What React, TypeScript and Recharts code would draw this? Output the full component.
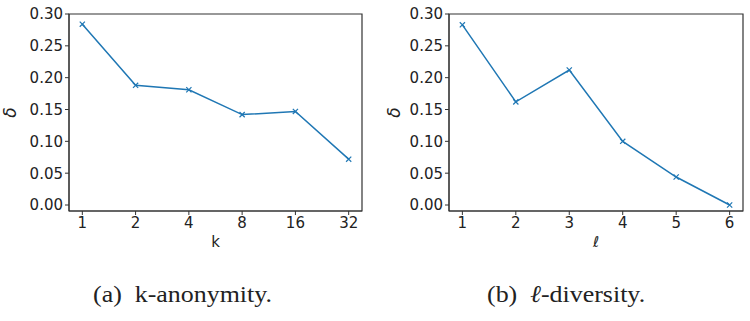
import { LineChart, Line, XAxis, YAxis, ReferenceArea, Label } from "recharts";

// k-anonymity panel
const kLabels = ["1", "2", "4", "8", "16", "32"];
const kDelta = [0.284, 0.188, 0.181, 0.142, 0.147, 0.072];

// l-diversity panel
const lLabels = ["1", "2", "3", "4", "5", "6"];
const lDelta = [0.283, 0.162, 0.212, 0.1, 0.044, 0.0];

const yTicks = [0, 0.05, 0.1, 0.15, 0.2, 0.25, 0.3];
const xIdx = [0, 1, 2, 3, 4, 5];

const BLUE = "#1f77b4";
const AXIS = "#333";
const Y_MIN = -0.0094;
const Y_MAX = 0.3;

const XDot = (props: any) => {
  const { cx, cy } = props;
  if (cx == null || cy == null) return null;
  const r = 2.6;
  return (
    <path
      d={`M${cx - r},${cy - r}L${cx + r},${cy + r}M${cx - r},${cy + r}L${cx + r},${cy - r}`}
      stroke={BLUE}
      strokeWidth={1.2}
      fill="none"
    />
  );
};

const DeltaLabel = ({ viewBox, dist }: any) => {
  const x = viewBox.x + viewBox.width - dist;
  const y = viewBox.y + viewBox.height / 2;
  return (
    <text
      x={x}
      y={y}
      transform={`rotate(-90 ${x} ${y})`}
      textAnchor="middle"
      dominantBaseline="central"
      fontFamily="DejaVu Sans"
      fontStyle="italic"
      fontSize={17}
      fill="#222"
    >
      δ
    </text>
  );
};

function Panel({ labels, values, xName, yWidth, right, dist, italicX }: any) {
  const data = values.map((v: number, i: number) => ({ i, v }));
  const tick = { fontFamily: "DejaVu Sans", fontSize: 15, fill: "#222" };
  return (
    <LineChart width={375} height={260} data={data} margin={{ top: 14, right, left: 0, bottom: 11 }}>
      <XAxis
        dataKey="i"
        type="number"
        domain={[-0.25, 5.25]}
        ticks={xIdx}
        interval={0}
        tickFormatter={(v: number) => labels[v]}
        tick={tick}
        tickSize={4}
        tickMargin={2}
        stroke={AXIS}
        height={38}
        allowDataOverflow
      >
        <Label
          value={xName}
          position="insideBottom"
          offset={2}
          style={{ fontFamily: "DejaVu Sans", fontSize: 15, fill: "#222", fontStyle: italicX ? "italic" : "normal" }}
        />
      </XAxis>
      <YAxis
        type="number"
        domain={[Y_MIN, Y_MAX]}
        ticks={yTicks}
        interval={0}
        tickFormatter={(v: number) => v.toFixed(2)}
        tick={tick}
        tickSize={4}
        tickMargin={2}
        stroke={AXIS}
        width={yWidth}
        allowDataOverflow
        label={<DeltaLabel dist={dist} />}
      />
      <ReferenceArea
        x1={-0.25}
        x2={5.25}
        y1={Y_MIN}
        y2={Y_MAX}
        fill="none"
        fillOpacity={0}
        stroke={AXIS}
        strokeWidth={1.2}
        ifOverflow="visible"
      />
      <Line
        dataKey="v"
        stroke={BLUE}
        strokeWidth={1.5}
        dot={<XDot />}
        activeDot={false}
        isAnimationActive={false}
      />
    </LineChart>
  );
}

const capStyle: any = {
  position: "absolute",
  top: 281,
  fontFamily: '"Liberation Serif", serif',
  fontSize: 24,
  color: "#222",
  whiteSpace: "nowrap",
  lineHeight: "26px",
  transformOrigin: "0 0",
  transform: "scaleX(1.08)",
};

export default function App() {
  return (
    <div style={{ position: "absolute", left: 0, top: 0, width: 750, height: 321, background: "#fff", overflow: "hidden" }}>
      <div style={{ position: "absolute", left: 0, top: 0 }}>
        <Panel labels={kLabels} values={kDelta} xName="k" yWidth={69} right={13} dist={59} />
      </div>
      <div style={{ position: "absolute", left: 375, top: 0 }}>
        <Panel labels={lLabels} values={lDelta} xName="ℓ" yWidth={74} right={7} dist={55} italicX />
      </div>
      <div style={{ ...capStyle, left: 93 }}>
        (a)<span style={{ marginLeft: 12 }}>k-anonymity.</span>
      </div>
      <div style={{ ...capStyle, left: 487 }}>
        (b)<span style={{ marginLeft: 12 }}><i>ℓ</i>-diversity.</span>
      </div>
    </div>
  );
}
